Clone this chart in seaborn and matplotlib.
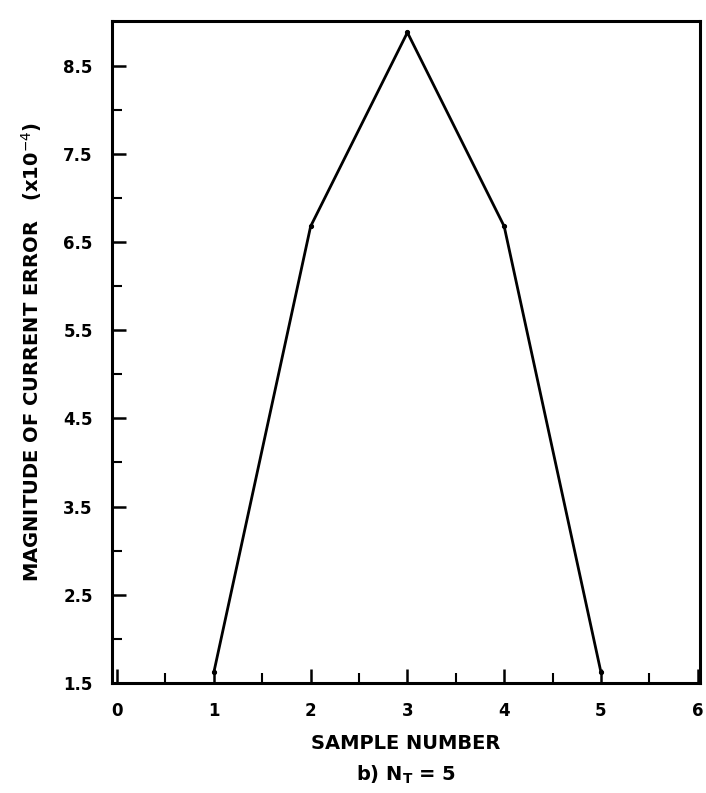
import matplotlib
matplotlib.use("Agg")
import matplotlib.pyplot as plt
import seaborn as sns
import pandas as pd
import numpy as np
from matplotlib.ticker import MultipleLocator, FixedLocator

sample_number = [1, 2, 3, 4, 5]
error_magnitude = [1.62, 6.68, 8.88, 6.68, 1.62]
x_ticks = [0, 1, 2, 3, 4, 5, 6]
y_ticks = [1.5, 2.5, 3.5, 4.5, 5.5, 6.5, 7.5, 8.5]

sns.set_style("ticks")
plt.rcParams['font.family'] = ['DejaVu Sans']
plt.rcParams['text.color'] = 'black'
plt.rcParams['axes.labelcolor'] = 'black'
plt.rcParams['xtick.color'] = 'black'
plt.rcParams['ytick.color'] = 'black'

df = pd.DataFrame({"x": sample_number, "y": error_magnitude})

fig = plt.figure(figsize=(7.06, 7.93), dpi=100)
ax = fig.add_axes([0.159, 0.139, 0.832, 0.8345])
sns.lineplot(data=df, x="x", y="y", ax=ax, color="black", linewidth=2.0,
             marker="o", markersize=3, markeredgecolor="black")

ax.set_xlim(-0.05, 6.02)
ax.set_ylim(1.5, 9.01)
ax.xaxis.set_major_locator(FixedLocator(x_ticks))
ax.xaxis.set_minor_locator(MultipleLocator(0.5))
ax.yaxis.set_major_locator(FixedLocator(y_ticks))
ax.yaxis.set_minor_locator(FixedLocator([2, 3, 4, 5, 6, 7, 8]))
ax.set_xticklabels([str(v) for v in x_ticks], fontweight="bold", fontsize=12)
ax.set_yticklabels([f"{v:.1f}" for v in y_ticks], fontweight="bold", fontsize=12)
ax.tick_params(axis="both", which="major", direction="in", length=10, width=1.8, pad=14)
ax.tick_params(axis="both", which="minor", direction="in", length=7, width=1.5)
for s in ax.spines.values():
    s.set_linewidth(2.2)
    s.set_color("black")

ax.set_xlabel("SAMPLE NUMBER", fontweight="bold", fontsize=14, labelpad=10)
ax.set_ylabel(r"MAGNITUDE OF CURRENT ERROR   (x10$^{-4}$)", fontweight="bold", fontsize=14, labelpad=14)
fig.text(0.159 + 0.832 / 2, 0.0227, r"b) N$_\mathbf{T}$ = 5", ha="center", va="center",
         fontweight="bold", fontsize=14)

fig.savefig("out.png", dpi=100)
